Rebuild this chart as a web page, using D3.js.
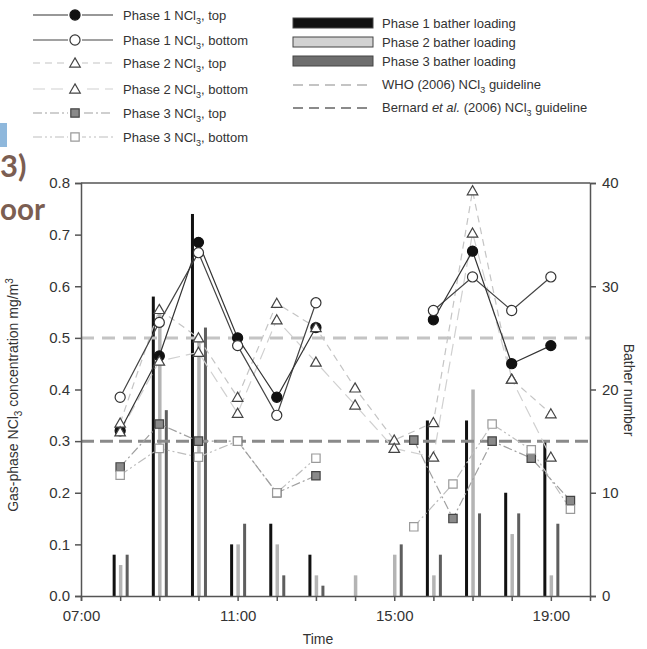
<!DOCTYPE html>
<html>
<head>
<meta charset="utf-8">
<script src="https://cdn.jsdelivr.net/npm/d3@7"></script>
<style>
body { margin: 0; background: #fff; }
svg { font-family: "Liberation Sans", Arial, sans-serif; }
</style>
</head>
<body>
<div id="chart"></div>
<script>
const W = 647, H = 649;

// data (time in hours)
const barHours = [8, 9, 10, 11, 12, 13, 14, 15, 16, 17, 18, 19];
const phase1Bathers = [4, 29, 37, 5, 7, 4, 0, 0, 17, 17, 10, 15];
const phase2Bathers = [3, 28, 25, 5, 5, 2, 2, 4, 2, 20, 6, 2];
const phase3Bathers = [4, 18, 26, 7, 2, 1, 0, 5, 4, 8, 8, 7];

const p12Hours = [8, 9, 10, 11, 12, 13, 14, 15, 16, 17, 18, 19];
const p1Top = [0.32, 0.465, 0.685, 0.50, 0.385, 0.52, null, null, 0.535, 0.668, 0.45, 0.485];
const p1Bottom = [0.385, 0.53, 0.665, 0.485, 0.35, 0.568, null, null, 0.553, 0.618, 0.553, 0.618];
const p2Top = [0.335, 0.555, 0.50, 0.385, 0.567, 0.52, 0.403, 0.302, 0.336, 0.785, 0.42, 0.353];
const p2Bottom = [0.318, 0.455, 0.472, 0.354, 0.535, 0.453, 0.37, 0.286, 0.269, 0.703, 0.42, 0.269];

const p3Hours = [8, 9, 10, 11, 12, 13, 14.5, 15.5, 16.5, 17.5, 18.5, 19.5];
const p3Top = [0.25, 0.333, 0.30, 0.30, 0.20, 0.233, null, 0.302, 0.15, 0.30, 0.267, 0.185];
const p3Bottom = [0.234, 0.286, 0.269, 0.30, 0.20, 0.267, null, 0.134, 0.217, 0.333, 0.283, 0.168];

const whoGuideline = 0.5;
const bernardGuideline = 0.3;

const leftTicks = [0, 0.1, 0.2, 0.3, 0.4, 0.5, 0.6, 0.7, 0.8];
const rightTicks = [0, 10, 20, 30, 40];
const hourTicks = d3.range(7, 20);
const labelHours = [7, 11, 15, 19];

const svg = d3.select("#chart").append("svg").attr("width", W).attr("height", H);

const pLeft = 81, pRight = 590, pTop = 183, pBottom = 596;
const x = d3.scaleLinear().domain([7, 20]).range([pLeft, pRight]);
const y = d3.scaleLinear().domain([0, 0.8]).range([pBottom, pTop]);
const y2 = d3.scaleLinear().domain([0, 40]).range([pBottom, pTop]);

// stray text from the source page
svg.append("rect").attr("x", 0).attr("y", 123).attr("width", 7).attr("height", 24).attr("fill", "#8fb8dc");
svg.append("text").attr("x", 0).attr("y", 177).attr("font-size", 31).attr("font-weight", "bold")
  .attr("fill", "#7b5e52").attr("font-family", "Lato, 'Open Sans', sans-serif").text("3)");
svg.append("text").attr("x", 0).attr("y", 220).attr("font-size", 30).attr("font-weight", "bold")
  .attr("textLength", 45).attr("lengthAdjust", "spacingAndGlyphs")
  .attr("fill", "#7b5e52").attr("font-family", "Lato, 'Open Sans', sans-serif").text("oor");

// bars
const bars = svg.append("g");
const barSets = [
  { vals: phase1Bathers, off: -6, fill: "#111", w: 3 },
  { vals: phase2Bathers, off: 0.5, fill: "#b4b4b4", w: 3.5 },
  { vals: phase3Bathers, off: 7, fill: "#5e5e5e", w: 3 }
];
barSets.forEach(s => {
  bars.selectAll(null).data(barHours.map((h, i) => ({ h, v: s.vals[i] })).filter(d => d.v > 0))
    .enter().append("rect")
    .attr("x", d => x(d.h) + s.off - s.w / 2)
    .attr("y", d => y2(d.v))
    .attr("width", s.w)
    .attr("height", d => pBottom - y2(d.v))
    .attr("fill", s.fill);
});

// guidelines
svg.append("line").attr("x1", pLeft).attr("x2", pRight).attr("y1", y(whoGuideline)).attr("y2", y(whoGuideline))
  .attr("stroke", "#c4c4c4").attr("stroke-width", 3).attr("stroke-dasharray", "13,8");
svg.append("line").attr("x1", pLeft).attr("x2", pRight).attr("y1", y(bernardGuideline)).attr("y2", y(bernardGuideline))
  .attr("stroke", "#8a8a8a").attr("stroke-width", 3).attr("stroke-dasharray", "13,6");

// series
const series = [
  { hours: p3Hours, vals: p3Bottom, stroke: "#bdbdbd", dash: "9,3,2,3,2,3", marker: "square", fill: "#fff", mstroke: "#9a9a9a" },
  { hours: p3Hours, vals: p3Top, stroke: "#a0a0a0", dash: "9,3,2,3", marker: "square", fill: "#8a8a8a", mstroke: "#444" },
  { hours: p12Hours, vals: p2Bottom, stroke: "#d0d0d0", dash: "12,6", marker: "triangle", fill: "#fff", mstroke: "#444" },
  { hours: p12Hours, vals: p2Top, stroke: "#c4c4c4", dash: "7,5", marker: "triangle", fill: "#fff", mstroke: "#444" },
  { hours: p12Hours, vals: p1Bottom, stroke: "#444", dash: null, marker: "circle", fill: "#fff", mstroke: "#333" },
  { hours: p12Hours, vals: p1Top, stroke: "#333", dash: null, marker: "circle", fill: "#111", mstroke: "#111" }
];

const line = d3.line().defined(d => d.v !== null).x(d => x(d.h)).y(d => y(d.v));
const sym = { circle: d3.symbolCircle, triangle: d3.symbolTriangle, square: d3.symbolSquare };
const symSize = { circle: 80, triangle: 48, square: 70 };

function drawMarker(g, type, fill, stroke) {
  g.append("path")
    .attr("d", d3.symbol().type(sym[type]).size(symSize[type])())
    .attr("fill", fill).attr("stroke", stroke).attr("stroke-width", 1.2);
}

series.forEach(s => {
  const pts = s.hours.map((h, i) => ({ h, v: s.vals[i] }));
  svg.append("path").datum(pts).attr("d", line).attr("fill", "none")
    .attr("stroke", s.stroke).attr("stroke-width", 1.2).attr("stroke-dasharray", s.dash);
});
// markers: phase 1 first so the triangles sit on top of it
[5, 4, 1, 0, 3, 2].map(i => series[i]).forEach(s => {
  const pts = s.hours.map((h, i) => ({ h, v: s.vals[i] })).filter(d => d.v !== null);
  pts.forEach(d => {
    const g = svg.append("g").attr("transform", `translate(${x(d.h)},${y(d.v) + (s.marker === "triangle" ? 1 : 0)})`);
    drawMarker(g, s.marker, s.fill, s.mstroke);
  });
});

// axes
const axisColor = "#555";
const gl = svg.append("g").attr("transform", `translate(${pLeft},0)`)
  .call(d3.axisLeft(y).tickValues(leftTicks).tickFormat(d3.format(".1f")).tickSize(6).tickPadding(5));
const gr = svg.append("g").attr("transform", `translate(${pRight},0)`)
  .call(d3.axisRight(y2).tickValues(rightTicks).tickSize(6).tickPadding(6));
const gb = svg.append("g").attr("transform", `translate(0,${pBottom})`)
  .call(d3.axisBottom(x).tickValues(hourTicks).tickSize(5).tickPadding(9)
    .tickFormat(h => labelHours.includes(h) ? d3.format("02d")(h) + ":00" : ""));
[gl, gr, gb].forEach(g => {
  g.selectAll(".domain").attr("stroke", axisColor).attr("stroke-width", 1.5);
  g.selectAll(".tick line").attr("stroke", axisColor).attr("stroke-width", 1.5);
  g.selectAll("text").attr("font-size", 15).attr("fill", "#333").attr("font-family", "Liberation Sans, Arial, sans-serif");
});
svg.append("line").attr("x1", pLeft).attr("x2", pRight).attr("y1", pTop).attr("y2", pTop)
  .attr("stroke", axisColor).attr("stroke-width", 1.5);

// axis titles
const yl = svg.append("text").attr("transform", `translate(18,395) rotate(-90)`).attr("text-anchor", "middle")
  .attr("font-size", 14).attr("fill", "#333");
yl.append("tspan").text("Gas-phase NCl");
yl.append("tspan").attr("font-size", 10).attr("dy", 4).text("3");
yl.append("tspan").attr("dy", -4).text(" concentration mg/m");
yl.append("tspan").attr("font-size", 10).attr("dy", -5).text("3");

svg.append("text").attr("transform", `translate(624,390) rotate(90)`).attr("text-anchor", "middle")
  .attr("font-size", 14).attr("fill", "#333").text("Bather number");
svg.append("text").attr("x", 318).attr("y", 644).attr("text-anchor", "middle")
  .attr("font-size", 14).attr("fill", "#333").text("Time");

// legend, left column
const legLeft = [
  { label: "top", y: 15, s: series[5], phase: 1 },
  { label: "bottom", y: 40, s: series[4], phase: 1 },
  { label: "top", y: 63, s: series[3], phase: 2 },
  { label: "bottom", y: 89, s: series[2], phase: 2 },
  { label: "top", y: 113, s: series[1], phase: 3 },
  { label: "bottom", y: 137, s: series[0], phase: 3 }
];
legLeft.forEach(d => {
  svg.append("line").attr("x1", 33).attr("x2", 113).attr("y1", d.y).attr("y2", d.y)
    .attr("stroke", d.s.stroke).attr("stroke-width", 1.2).attr("stroke-dasharray", d.s.dash);
  const g = svg.append("g").attr("transform", `translate(75,${d.y + (d.s.marker === "triangle" ? 1 : 0)})`);
  g.append("rect").attr("x", -7).attr("y", -6).attr("width", 14).attr("height", 12).attr("fill", "#fff");
  drawMarker(g, d.s.marker, d.s.fill, d.s.mstroke);
  const t = svg.append("text").attr("x", 123).attr("y", d.y + 5).attr("font-size", 13).attr("fill", "#333");
  t.append("tspan").text(`Phase ${d.phase} NCl`);
  t.append("tspan").attr("font-size", 9).attr("dy", 4).text("3");
  t.append("tspan").attr("dy", -4).text(`, ${d.label}`);
});

// legend, right column
const legBars = [
  { label: "Phase 1 bather loading", y: 23, fill: "#111" },
  { label: "Phase 2 bather loading", y: 42, fill: "#d2d2d2" },
  { label: "Phase 3 bather loading", y: 61, fill: "#6e6e6e" }
];
legBars.forEach(d => {
  svg.append("rect").attr("x", 293).attr("y", d.y - 5).attr("width", 80).attr("height", 10)
    .attr("fill", d.fill).attr("stroke", "#444").attr("stroke-width", 1);
  svg.append("text").attr("x", 382).attr("y", d.y + 5).attr("font-size", 13).attr("fill", "#333").text(d.label);
});
svg.append("line").attr("x1", 293).attr("x2", 370).attr("y1", 85).attr("y2", 85)
  .attr("stroke", "#c4c4c4").attr("stroke-width", 2).attr("stroke-dasharray", "10,6");
svg.append("line").attr("x1", 293).attr("x2", 370).attr("y1", 108).attr("y2", 108)
  .attr("stroke", "#8a8a8a").attr("stroke-width", 2).attr("stroke-dasharray", "10,6");
const who = svg.append("text").attr("x", 382).attr("y", 89).attr("font-size", 13).attr("fill", "#333");
who.append("tspan").text("WHO (2006) NCl");
who.append("tspan").attr("font-size", 9).attr("dy", 4).text("3");
who.append("tspan").attr("dy", -4).text(" guideline");
const ber = svg.append("text").attr("x", 382).attr("y", 112).attr("font-size", 13).attr("fill", "#333");
ber.append("tspan").text("Bernard ");
ber.append("tspan").attr("font-style", "italic").text("et al.");
ber.append("tspan").text(" (2006) NCl");
ber.append("tspan").attr("font-size", 9).attr("dy", 4).text("3");
ber.append("tspan").attr("dy", -4).text(" guideline");
</script>
</body>
</html>
